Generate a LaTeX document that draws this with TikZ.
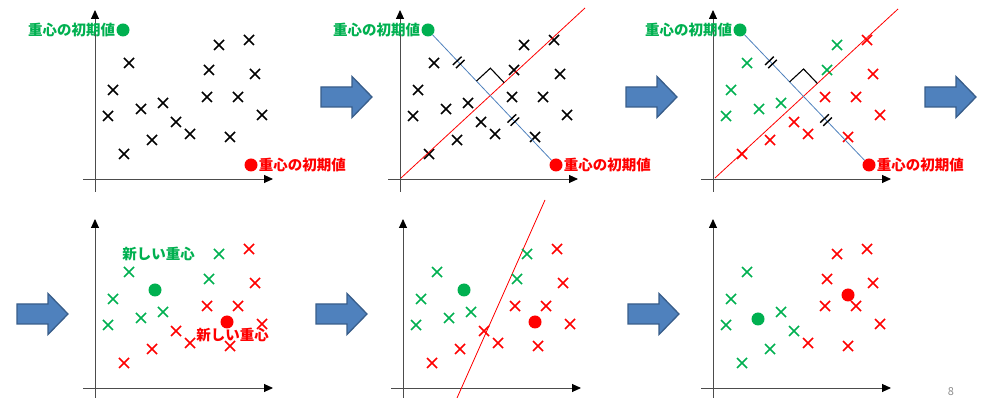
\documentclass[tikz,border=0pt]{standalone}
\usepackage{fontspec}
\newfontfamily\jpfont{Noto Sans CJK JP}
\usepackage{xcolor}
\definecolor{km-green}{RGB}{0,176,80}
\definecolor{km-red}{RGB}{255,0,0}
\definecolor{km-blue}{RGB}{79,129,189}
\definecolor{km-border}{RGB}{56,93,138}
\usepackage{tikz}
\usetikzlibrary{arrows.meta, positioning, calc, shapes.misc, decorations.markings}

% pontos (relativos a origem de cada grafico)
\newcommand{\allpts}{34/116, 18/89, 13/63, 29/25, 46/70, 68/76, 57/39, 81/57, 95/45, 124/134, 154/139, 114/109, 160/105, 112/82, 143/82, 167/64, 135/42}
\newcommand{\grnA}{34/116, 18/89, 13/63, 46/70, 68/76, 124/134, 114/109}
\newcommand{\redA}{29/25, 57/39, 81/57, 95/45, 154/139, 160/105, 112/82, 143/82, 167/64, 135/42}
\newcommand{\grnB}{34/116, 18/89, 13/63, 68/76, 57/39, 81/57, 29/25}
\newcommand{\redB}{124/134, 154/139, 114/109, 160/105, 112/82, 143/82, 167/64, 95/45, 135/42}
\newcommand{\ticks}{\draw[black, line width=1.4pt] (-2.2,-6) -- (-2.2,6) (2.2,-6) -- (2.2,6);}

\begin{document}
\begin{tikzpicture}[
    x=1pt, y=1pt,
    xmark/.style={cross out, draw, line width=1.5pt, minimum size=8.5pt, inner sep=0pt},
    cdot/.style={circle, inner sep=0pt, minimum size=13pt},
    lbl/.style={font=\jpfont\bfseries\fontsize{14.5}{14.5}\selectfont, inner sep=1pt},
    bisector/.style={draw=km-red, line width=0.8pt},
    joinline/.style={draw=km-blue, line width=0.8pt, postaction=decorate,
        decoration={markings, mark=at position 0.22 with {\ticks}, mark=at position 0.68 with {\ticks}}},
    axes/.pic={
        \draw[black!70, line width=0.9pt, -{Triangle[length=9pt, width=8pt]}, arrows={[black]}] (-12,0) -- (178,0);
        \draw[black!70, line width=0.9pt, -{Triangle[length=9pt, width=8pt]}, arrows={[black]}] (0,-#1) -- (0,169);
    },
    bigarrow/.pic={
        \draw[draw=km-border, fill=km-blue, line width=1.3pt, line join=miter]
            (0,-10) -- (31,-10) -- (31,-20.5) -- (51,0) -- (31,20.5) -- (31,10) -- (0,10) -- cycle;
    }
]
\useasboundingbox (0,0) rectangle (984,398);

% Grafico 1: pontos e centroides iniciais
\begin{scope}[shift={(95,219)}]
\pic {axes=13};
\foreach \x/\y [count=\i] in \allpts \node[xmark] (a\i) at (\x,\y) {};
\node[cdot, fill=km-green] (g1) at (28,149) {};
\node[lbl, text=km-green, left=0pt of g1] (g1l) {重心の初期値};
\node[cdot, fill=km-red] (r1) at (156,14) {};
\node[lbl, text=km-red, right=0pt of r1] (r1l) {重心の初期値};
\end{scope}

% Grafico 2: bissetriz
\begin{scope}[shift={(400,219)}]
\pic {axes=13};
\foreach \x/\y [count=\i] in \allpts \node[xmark] (b\i) at (\x,\y) {};
\node[cdot, fill=km-green] (g2) at (28,149) {};
\node[lbl, text=km-green, left=0pt of g2] (g2l) {重心の初期値};
\node[cdot, fill=km-red] (r2) at (156,14) {};
\node[lbl, text=km-red, right=0pt of r2] (r2l) {重心の初期値};
\coordinate (s2a) at (1,1);
\coordinate (s2b) at (185,171);
\draw[bisector] (s2a) -- (s2b);
\draw[joinline] (g2) -- (r2);
\coordinate (x2) at (intersection of g2--r2 and s2a--s2b);
\coordinate (u2) at ($(x2)!20pt!(g2)$);
\coordinate (v2) at ($(x2)!19pt!(s2b)$);
\draw[line width=1.1pt] (u2) -- ($(u2)+(v2)-(x2)$) -- (v2);
\end{scope}

% Grafico 3: atribuicao aos grupos
\begin{scope}[shift={(713,219)}]
\pic {axes=13};
\foreach \x/\y [count=\i] in \grnA \node[xmark, draw=km-green] (cg\i) at (\x,\y) {};
\foreach \x/\y [count=\i] in \redA \node[xmark, draw=km-red] (cr\i) at (\x,\y) {};
\node[cdot, fill=km-green] (g3) at (27,149) {};
\node[lbl, text=km-green, left=0pt of g3] (g3l) {重心の初期値};
\node[cdot, fill=km-red] (r3) at (156,14) {};
\node[lbl, text=km-red, right=0pt of r3] (r3l) {重心の初期値};
\coordinate (s3a) at (2,1);
\coordinate (s3b) at (185,170);
\draw[bisector] (s3a) -- (s3b);
\draw[joinline] (g3) -- (r3);
\coordinate (x3) at (intersection of g3--r3 and s3a--s3b);
\coordinate (u3) at ($(x3)!20pt!(g3)$);
\coordinate (v3) at ($(x3)!19pt!(s3b)$);
\draw[line width=1.1pt] (u3) -- ($(u3)+(v3)-(x3)$) -- (v3);
\end{scope}

% Grafico 4: novos centroides
\begin{scope}[shift={(95,10)}]
\pic {axes=10};
\foreach \x/\y [count=\i] in \grnA \node[xmark, draw=km-green] (dg\i) at (\x,\y) {};
\foreach \x/\y [count=\i] in \redA \node[xmark, draw=km-red] (dr\i) at (\x,\y) {};
\node[cdot, fill=km-green] (g4) at (60,98) {};
\node[cdot, fill=km-red] (r4) at (132,66) {};
\node[lbl, text=km-green] (g4l) at (63.5,134) {新しい重心};
\node[lbl, text=km-red] (r4l) at (137.5,53) {新しい重心};
\end{scope}

% Grafico 5: nova fronteira
\begin{scope}[shift={(403,10)}]
\pic {axes=10};
\coordinate (s5a) at (142,188);
\coordinate (s5b) at (54,-10);
\draw[bisector] (s5a) -- (s5b);
\foreach \x/\y [count=\i] in \grnA \node[xmark, draw=km-green] (eg\i) at (\x,\y) {};
\foreach \x/\y [count=\i] in \redA \node[xmark, draw=km-red] (er\i) at (\x,\y) {};
\node[cdot, fill=km-green] (g5) at (61,98) {};
\node[cdot, fill=km-red] (r5) at (132,66) {};
\end{scope}

% Grafico 6: resultado final
\begin{scope}[shift={(713,10)}]
\pic {axes=10};
\foreach \x/\y [count=\i] in \grnB \node[xmark, draw=km-green] (fg\i) at (\x,\y) {};
\foreach \x/\y [count=\i] in \redB \node[xmark, draw=km-red] (fr\i) at (\x,\y) {};
\node[cdot, fill=km-green] (g6) at (45,69) {};
\node[cdot, fill=km-red] (r6) at (135,93) {};
\end{scope}

% Setas
\pic at (321,301) {bigarrow};
\pic at (626,301) {bigarrow};
\pic at (925,301) {bigarrow};
\pic at (17,84) {bigarrow};
\pic at (316,84) {bigarrow};
\pic at (628,84) {bigarrow};

\node[font=\jpfont\fontsize{11}{11}\selectfont, text=black!45, inner sep=0pt] (pg) at (951,6) {8};

\end{tikzpicture}
\end{document}
